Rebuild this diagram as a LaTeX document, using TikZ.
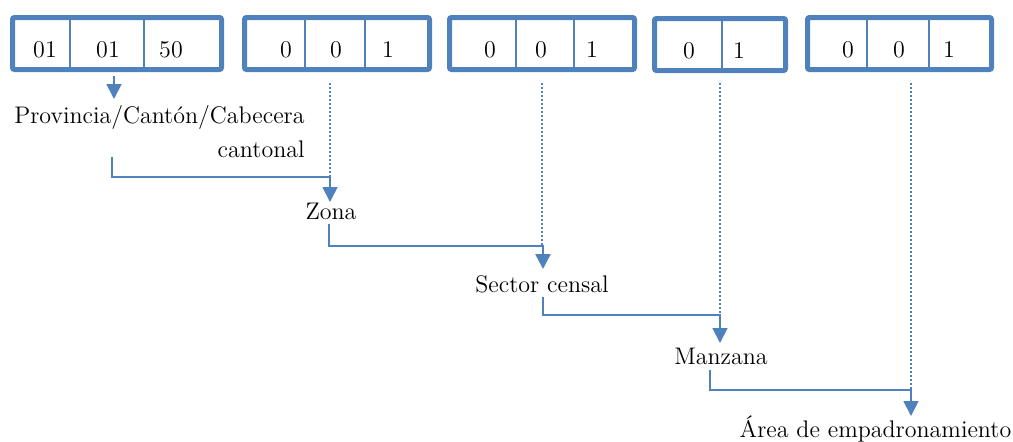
\documentclass[tikz,border=0pt]{standalone}
\usetikzlibrary{arrows.meta}
\definecolor{codeblue}{HTML}{4F81BD}
\begin{document}
\begin{tikzpicture}[x=0.5pt,y=-0.5pt,
  codebox/.style={draw=codeblue,line width=2.5pt,rounded corners=1pt,inner sep=0pt,fill=white},
  divider/.style={draw=codeblue,line width=0.75pt},
  digit/.style={inner sep=0pt,anchor=base,font=\fontsize{12}{17}\selectfont},
  lbl/.style={inner sep=0pt,font=\fontsize{12}{17}\selectfont},
  link/.style={draw=codeblue,line width=0.9pt},
  arr/.style={link,-{Triangle[width=7.5pt,length=7.5pt]}},
  guide/.style={draw=codeblue,line width=0.7pt,dash pattern=on 1pt off 1pt}]
\useasboundingbox (0,0) rectangle (1013,441);

% code boxes
\node[codebox,minimum width=104.5pt,minimum height=26pt] (b1) at (117,43.5) {};
\node[codebox,minimum width=92.5pt,minimum height=26pt] (b2) at (337,43.5) {};
\node[codebox,minimum width=92.5pt,minimum height=26pt] (b3) at (542,43.5) {};
\node[codebox,minimum width=65.5pt,minimum height=26pt] (b4) at (720,44.5) {};
\node[codebox,minimum width=92pt,minimum height=26pt] (b5) at (899.5,43.5) {};

% cell dividers
\draw[divider] (70,19) -- (70,68);
\draw[divider] (144,19) -- (144,68);
\draw[divider] (305,19) -- (305,68);
\draw[divider] (365,19) -- (365,68);
\draw[divider] (516,19) -- (516,68);
\draw[divider] (574,19) -- (574,68);
\draw[divider] (722,20) -- (722,69);
\draw[divider] (867,19) -- (867,68);
\draw[divider] (929,19) -- (929,68);

% cell contents
\node[digit] (c11) at (45,57) {01};
\node[digit] (c12) at (108,57) {01};
\node[digit] (c13) at (171,57) {50};
\node[digit] (c21) at (286,57) {0};
\node[digit] (c22) at (336,57) {0};
\node[digit] (c23) at (388,57) {1};
\node[digit] (c31) at (490,57) {0};
\node[digit] (c32) at (541,57) {0};
\node[digit] (c33) at (592,57) {1};
\node[digit] (c41) at (689,58) {0};
\node[digit] (c42) at (739,58) {1};
\node[digit] (c51) at (848,57) {0};
\node[digit] (c52) at (899,57) {0};
\node[digit] (c53) at (949,57) {1};

% level labels (the two-line label is placed by its last baseline)
\node[lbl,align=right,anchor=base east] (prov) at (305,157) {Provincia/Cantón/Cabecera\\cantonal};
\node[lbl,anchor=base] (zona) at (331,219) {Zona};
\node[lbl,anchor=base] (sector) at (542,292) {Sector censal};
\node[lbl,anchor=base] (manz) at (721,364) {Manzana};
\node[lbl,anchor=base] (area) at (875.5,437) {Área de empadronamiento};

% connector end points
\coordinate (s1) at (114,76);   \coordinate (t1) at (114,99);
\coordinate (s2) at (112,157);  \coordinate (t2) at (330,202);
\coordinate (s3) at (329,224);  \coordinate (t3) at (543,269);
\coordinate (s4) at (543,297);  \coordinate (t4) at (720,343);
\coordinate (s5) at (710,370);  \coordinate (t5) at (911,416);
\coordinate (g2) at (330,83);   \coordinate (g3) at (542,83);
\coordinate (g4) at (720,83);   \coordinate (g5) at (911,83);

% dotted guides from each code box
\draw[guide] (g2) -- (330,177);
\draw[guide] (g3) -- (542,246);
\draw[guide] (g4) -- (720,315);
\draw[guide] (g5) -- (911,390);

% hierarchy connectors
\draw[arr] (s1) -- (t1);
\draw[arr] (s2) |- (330,177) -- (t2);
\draw[arr,line width=1.3pt] (s3) |- (543,246) -- (t3);
\draw[arr] (s4) |- (720,315) -- (t4);
\draw[arr] (s5) |- (911,390) -- (t5);
\end{tikzpicture}
\end{document}
